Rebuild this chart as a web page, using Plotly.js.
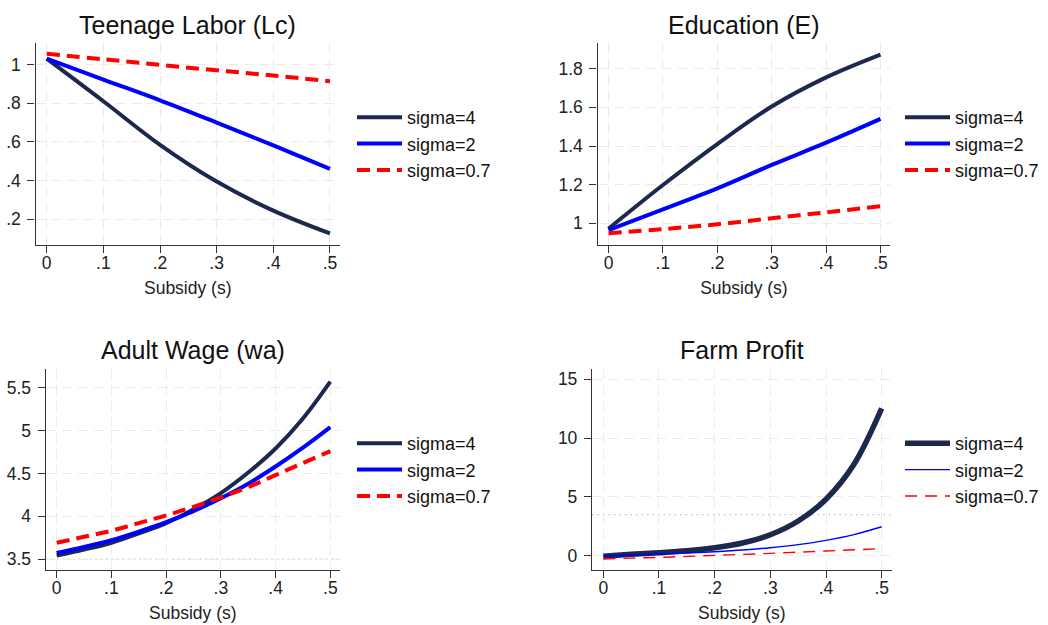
<!DOCTYPE html>
<html>
<head>
<meta charset="utf-8">
<script src="https://cdn.plot.ly/plotly-3.0.1.min.js"></script>
<style>
  html, body { margin: 0; padding: 0; background: #ffffff; }
  #chart { width: 1048px; height: 625px; }
</style>
</head>
<body>
<div id="chart"></div>
<script>
// ---------------- DATA ----------------
const seriesNames = ["sigma=4", "sigma=2", "sigma=0.7"];
const panelTitles = ["Teenage Labor (Lc)", "Education (E)", "Adult Wage (wa)", "Farm Profit"];
const xTitle = "Subsidy (s)";

const subsidyCoarse = [0, 0.1, 0.2, 0.3, 0.4, 0.5];
const subsidyFine = [0, 0.05, 0.1, 0.15, 0.2, 0.25, 0.3, 0.35, 0.4, 0.45, 0.5];

// Teenage Labor (Lc)
const labor_s4  = [1.03, 0.81, 0.585, 0.395, 0.245, 0.127];
const labor_s2  = [1.03, 0.922, 0.815, 0.700, 0.582, 0.461];
const labor_s07 = [1.055, 1.027, 0.998, 0.970, 0.943, 0.914];

// Education (E)
const edu_s4  = [0.972, 1.198, 1.410, 1.604, 1.755, 1.873];
const edu_s2  = [0.965, 1.072, 1.181, 1.302, 1.417, 1.540];
const edu_s07 = [0.948, 0.970, 0.995, 1.026, 1.057, 1.088];

// Adult Wage (wa)
const wage_s4  = [3.54, 3.61, 3.69, 3.80, 3.92, 4.08, 4.27, 4.51, 4.79, 5.14, 5.57];
const wage_s2  = [3.57, 3.64, 3.72, 3.82, 3.93, 4.06, 4.21, 4.38, 4.58, 4.80, 5.04];
const wage_s07 = [3.69, 3.76, 3.83, 3.92, 4.01, 4.11, 4.22, 4.34, 4.48, 4.62, 4.76];

// Farm Profit
const profit_s4  = [-0.05, 0.12, 0.26, 0.43, 0.68, 1.08, 1.78, 2.95, 4.80, 7.75, 12.52];
const profit_s2  = [-0.05, 0.06, 0.14, 0.23, 0.34, 0.48, 0.68, 0.94, 1.30, 1.79, 2.46];
const profit_s07 = [-0.28, -0.21, -0.14, -0.06, 0.03, 0.11, 0.20, 0.30, 0.40, 0.50, 0.60];

// Tick labels
const xTickVals = [0, 0.1, 0.2, 0.3, 0.4, 0.5];
const xTickText = ["0", ".1", ".2", ".3", ".4", ".5"];
const laborTickVals = [0.2, 0.4, 0.6, 0.8, 1];
const laborTickText = [".2", ".4", ".6", ".8", "1"];
const eduTickVals = [1, 1.2, 1.4, 1.6, 1.8];
const eduTickText = ["1", "1.2", "1.4", "1.6", "1.8"];
const wageTickVals = [3.5, 4, 4.5, 5, 5.5];
const wageTickText = ["3.5", "4", "4.5", "5", "5.5"];
const profitTickVals = [0, 5, 10, 15];
const profitTickText = ["0", "5", "10", "15"];

// Reference line value (dotted) in lower panels
const refLineValue = 3.5;

// ---------------- STYLE ----------------
const NAVY = "rgb(28,40,78)";
const BLUE = "#0000ff";
const RED = "#ff0000";
const FONT = "Liberation Sans, Arial, Helvetica, sans-serif";
const W = 1048, H = 625;

// panel geometry in pixels: [left, right, top, bottom]
const geo = [
  [35.5, 340, 43.3, 245],
  [597.5, 890.3, 43.3, 245],
  [45.7, 340, 369.3, 570],
  [592, 891.7, 369.3, 570]
];
const xRanges = [[-0.0198, 0.5177], [-0.0202, 0.518], [-0.0201, 0.5177], [-0.0203, 0.518]];
const yRanges = [[0.0672, 1.1096], [0.8877, 1.9314], [3.372, 5.715], [-1.216, 15.85]];
const yTicks = [[laborTickVals, laborTickText], [eduTickVals, eduTickText], [wageTickVals, wageTickText], [profitTickVals, profitTickText]];

const panelData = [
  [subsidyCoarse, [labor_s4, labor_s2, labor_s07]],
  [subsidyCoarse, [edu_s4, edu_s2, edu_s07]],
  [subsidyFine, [wage_s4, wage_s2, wage_s07]],
  [subsidyFine, [profit_s4, profit_s2, profit_s07]]
];

const lineStyles = [
  [{color: NAVY, width: 4}, {color: BLUE, width: 4}, {color: RED, width: 4, dash: "13px,7px"}],
  [{color: NAVY, width: 4}, {color: BLUE, width: 4}, {color: RED, width: 4, dash: "13px,7px"}],
  [{color: NAVY, width: 4}, {color: BLUE, width: 4}, {color: RED, width: 4, dash: "13px,7px"}],
  [{color: NAVY, width: 5.5}, {color: BLUE, width: 1.4}, {color: RED, width: 1.4, dash: "12px,8px"}]
];

const traces = [];
const layout = {
  width: W, height: H, autosize: false,
  margin: {l: 0, r: 0, t: 0, b: 0, pad: 0},
  paper_bgcolor: "#ffffff", plot_bgcolor: "#ffffff",
  font: {family: FONT, color: "#111111", size: 17},
  annotations: [], shapes: []
};

const legendNames = ["legend", "legend2", "legend3", "legend4"];
const legendPos = [[352, 99], [900, 99], [352, 425], [900, 425]];

for (let p = 0; p < 4; p++) {
  const suffix = p === 0 ? "" : String(p + 1);
  const xa = "x" + suffix, ya = "y" + suffix;
  const [xs, ysList] = panelData[p];
  for (let k = 0; k < 3; k++) {
    traces.push({
      type: "scatter", mode: "lines",
      x: xs, y: ysList[k],
      name: seriesNames[k],
      xaxis: xa, yaxis: ya,
      line: Object.assign({shape: "spline", smoothing: 1.0}, lineStyles[p][k]),
      legend: legendNames[p],
      legendgroup: "g" + p + "_" + k,
      hoverinfo: "x+y+name"
    });
  }
  const g = geo[p];
  const common = {
    showline: true, linecolor: "#333333", linewidth: 1.3,
    ticks: "outside", ticklen: 7, tickwidth: 1.3, tickcolor: "#333333",
    showgrid: true, gridcolor: "#ebebeb", gridwidth: 1.3, griddash: "10px,6px",
    zeroline: false, mirror: false, fixedrange: true,
    tickfont: {family: FONT, size: 17.5, color: "#222222"}
  };
  layout["xaxis" + suffix] = Object.assign({}, common, {
    domain: [g[0] / W, g[1] / W],
    range: xRanges[p],
    anchor: ya,
    tickmode: "array", tickvals: xTickVals, ticktext: xTickText,
    ticklabelstandoff: -5,
    title: {text: xTitle, font: {family: FONT, size: 17.5, color: "#222222"}, standoff: 9}
  });
  layout["yaxis" + suffix] = Object.assign({}, common, {
    domain: [1 - g[3] / H, 1 - g[2] / H],
    range: yRanges[p],
    anchor: xa,
    tickmode: "array", tickvals: yTicks[p][0], ticktext: yTicks[p][1],
    ticklabelstandoff: 3
  });
  layout.annotations.push({
    text: panelTitles[p], xref: "paper", yref: "paper",
    x: ((g[0] + g[1]) / 2) / W, y: 1 - (p < 2 ? 25 : 350) / H,
    xanchor: "center", yanchor: "middle", showarrow: false,
    font: {family: FONT, size: 25, color: "#111111"}
  });
  layout[legendNames[p]] = {
    x: legendPos[p][0] / W, y: 1 - legendPos[p][1] / H,
    xanchor: "left", yanchor: "top",
    bgcolor: "rgba(0,0,0,0)", borderwidth: 0,
    font: {family: FONT, size: 18, color: "#111111"},
    itemwidth: 45, tracegroupgap: 4, traceorder: "normal"
  };
  if (p >= 2) {
    layout.shapes.push({
      type: "line", xref: xa + " domain", yref: ya,
      x0: 0, x1: 1, y0: refLineValue, y1: refLineValue,
      line: {color: "#c4c4c4", width: 1.3, dash: "1.5px,4px"},
      layer: "below"
    });
  }
}

Plotly.newPlot("chart", traces, layout, {displayModeBar: false});
</script>
</body>
</html>
